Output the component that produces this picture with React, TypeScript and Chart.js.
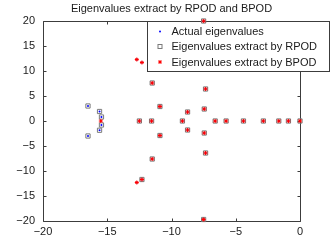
import React, { useEffect, useRef } from "react";
import { Chart, registerables } from "chart.js";

Chart.register(...registerables);

const titleText = "Eigenvalues extract by RPOD and BPOD";
const legendLabels = [
  "Actual eigenvalues",
  "Eigenvalues extract by RPOD",
  "Eigenvalues extract by BPOD",
];

const xTicks = [-20, -15, -10, -5, 0];
const yTicks = [-20, -15, -10, -5, 0, 5, 10, 15, 20];

const actualX = [
  -16.5, -16.5, -15.6, -15.6, -15.45, -15.45,
  -12.7, -12.7, -12.3, -12.3, -11.5, -11.5, -10.9, -10.9, -12.5, -11.55,
  -8.75, -8.75, -9.15, -7.35, -7.35, -7.45, -7.45,
  -6.6, -5.75, -4.4, -2.85, -1.65, -0.9, 0, -7.5, -7.5,
];
const actualY = [
  3.0, -3.0, 1.9, -1.85, 0.8, -0.8,
  12.3, -12.3, 11.7, -11.7, 7.6, -7.6, 2.9, -2.9, 0, 0,
  1.8, -1.8, 0, 6.4, -6.4, 2.4, -2.4,
  0, 0, 0, 0, 0, 0, 0, 20, -19.7,
];

const rpodX = [
  -16.5, -16.5, -15.6, -15.6, -15.45, -15.45,
  -12.3, -11.5, -11.5, -10.9, -10.9, -12.5, -11.55,
  -8.75, -8.75, -9.15, -7.35, -7.35, -7.45, -7.45,
  -6.6, -5.75, -4.4, -2.85, -1.65, -0.9, 0, -7.5, -7.5,
];
const rpodY = [
  3.0, -3.0, 1.9, -1.85, 0.8, -0.8,
  -11.7, 7.6, -7.6, 2.9, -2.9, 0, 0,
  1.8, -1.8, 0, 6.4, -6.4, 2.4, -2.4,
  0, 0, 0, 0, 0, 0, 0, 20, -19.7,
];

const bpodX = [
  -15.5, -12.7, -12.7, -12.3, -12.3, -11.5, -11.5, -10.9, -10.9, -12.5, -11.55,
  -8.75, -8.75, -9.15, -7.35, -7.35, -7.45, -7.45,
  -6.6, -5.75, -4.4, -2.85, -1.65, -0.9, 0, -7.5, -7.5,
];
const bpodY = [
  0, 12.3, -12.3, 11.7, -11.7, 7.6, -7.6, 2.9, -2.9, 0, 0,
  1.8, -1.8, 0, 6.4, -6.4, 2.4, -2.4,
  0, 0, 0, 0, 0, 0, 0, 20, -19.7,
];

const FONT = "'Liberation Sans', Arial, Helvetica, sans-serif";
const AXIS_COLOR = "#3c3c3c";
const TEXT_COLOR = "#1a1a1a";

const zip = (xs: number[], ys: number[]) => xs.map((x, i) => ({ x, y: ys[i] }));
const fmt = (v: number | string) => String(v).replace("-", "\u2212");

const decorPlugin = {
  id: "matlabDecor",
  beforeDatasetsDraw(chart: any) {
    const { ctx, chartArea } = chart;
    const xs = chart.scales.x;
    const ys = chart.scales.y;
    const L = Math.round(chartArea.left) + 0.5;
    const R = Math.round(chartArea.right) + 0.5;
    const T = Math.round(chartArea.top) + 0.5;
    const B = Math.round(chartArea.bottom) + 0.5;
    ctx.save();
    ctx.strokeStyle = AXIS_COLOR;
    ctx.lineWidth = 1;
    ctx.beginPath();
    ctx.rect(L, T, R - L, B - T);
    const tl = 3;
    xTicks.forEach((v) => {
      const px = Math.round(xs.getPixelForValue(v)) + 0.5;
      ctx.moveTo(px, B);
      ctx.lineTo(px, B - tl);
      ctx.moveTo(px, T);
      ctx.lineTo(px, T + tl);
    });
    yTicks.forEach((v) => {
      const py = Math.round(ys.getPixelForValue(v)) + 0.5;
      ctx.moveTo(L, py);
      ctx.lineTo(L + tl, py);
      ctx.moveTo(R, py);
      ctx.lineTo(R - tl, py);
    });
    ctx.stroke();

    // title
    ctx.fillStyle = TEXT_COLOR;
    ctx.font = `11px ${FONT}`;
    ctx.textAlign = "center";
    ctx.textBaseline = "alphabetic";
    ctx.fillText(titleText, (chartArea.left + chartArea.right) / 2, 12);

    // legend box
    const lx = 147.5, ly = 21.5, lw = 182, lh = 50;
    ctx.fillStyle = "#ffffff";
    ctx.fillRect(lx, ly, lw, lh);
    ctx.strokeStyle = AXIS_COLOR;
    ctx.strokeRect(lx, ly, lw, lh);

    const rows = [31.5, 46.5, 62];
    ctx.fillStyle = TEXT_COLOR;
    ctx.textAlign = "left";
    ctx.textBaseline = "middle";
    legendLabels.forEach((t, i) => {
      ctx.fillText(t, 171.5, rows[i] + 0.5);
    });
    const mx = 160;
    // blue dot
    ctx.fillStyle = "#0000ff";
    ctx.beginPath();
    ctx.arc(mx, rows[0], 1, 0, Math.PI * 2);
    ctx.fill();
    // gray square
    ctx.strokeStyle = "#7a7a7a";
    ctx.strokeRect(mx - 2, rows[1] - 2, 4, 4);
    // red star
    ctx.strokeStyle = "#ff0000";
    ctx.beginPath();
    const r = 2;
    ctx.moveTo(mx - r, rows[2]); ctx.lineTo(mx + r, rows[2]);
    ctx.moveTo(mx, rows[2] - r); ctx.lineTo(mx, rows[2] + r);
    ctx.moveTo(mx - r * 0.7, rows[2] - r * 0.7); ctx.lineTo(mx + r * 0.7, rows[2] + r * 0.7);
    ctx.moveTo(mx - r * 0.7, rows[2] + r * 0.7); ctx.lineTo(mx + r * 0.7, rows[2] - r * 0.7);
    ctx.stroke();
    ctx.restore();
  },
};

export default function App() {
  const ref = useRef<HTMLCanvasElement | null>(null);
  useEffect(() => {
    if (!ref.current) return;
    const tickFont = { family: FONT, size: 11 };
    const chart = new Chart(ref.current, {
      type: "scatter",
      data: {
        datasets: [
          {
            label: legendLabels[2],
            data: zip(bpodX, bpodY),
            pointStyle: "star",
            radius: 2,
            borderColor: "#ff0000",
            backgroundColor: "#ff0000",
            borderWidth: 1,
            clip: false,
            order: 0,
          },
          {
            label: legendLabels[1],
            data: zip(rpodX, rpodY),
            pointStyle: "rect",
            radius: 3,
            borderColor: "#7a7a7a",
            backgroundColor: "rgba(0,0,0,0)",
            borderWidth: 1,
            clip: false,
            order: 1,
          },
          {
            label: legendLabels[0],
            data: zip(actualX, actualY),
            pointStyle: "circle",
            radius: 1,
            borderColor: "#0000ff",
            backgroundColor: "#0000ff",
            borderWidth: 0,
            clip: false,
            order: 2,
          },
        ] as any,
      },
      options: {
        animation: false,
        responsive: false,
        devicePixelRatio: 1,
        layout: { padding: { top: 21, right: 32, left: 0, bottom: 0 } },
        plugins: {
          legend: { display: false },
          title: { display: false },
          tooltip: { enabled: false },
        },
        scales: {
          x: {
            type: "linear",
            min: -20,
            max: 0,
            afterBuildTicks: (s: any) => {
              s.ticks = xTicks.map((v) => ({ value: v }));
            },
            afterFit: (s: any) => {
              s.height = 28;
            },
            ticks: {
              padding: 4,
              font: tickFont,
              color: TEXT_COLOR,
              maxRotation: 0,
              autoSkip: false,
              callback: (v: any) => fmt(v),
            },
            grid: { display: false, drawTicks: false },
            border: { display: false },
          },
          y: {
            type: "linear",
            min: -20,
            max: 20,
            afterBuildTicks: (s: any) => {
              s.ticks = yTicks.map((v) => ({ value: v }));
            },
            afterFit: (s: any) => {
              s.width = 43;
            },
            ticks: {
              padding: 8,
              font: tickFont,
              color: TEXT_COLOR,
              autoSkip: false,
              callback: (v: any) => fmt(v),
            },
            grid: { display: false, drawTicks: false },
            border: { display: false },
          },
        },
      } as any,
      plugins: [decorPlugin],
    });
    return () => chart.destroy();
  }, []);
  return (
    <div style={{ position: "absolute", left: 0, top: 0, width: 332, height: 249 }}>
      <canvas ref={ref} width={332} height={249} style={{ display: "block" }} />
    </div>
  );
}
